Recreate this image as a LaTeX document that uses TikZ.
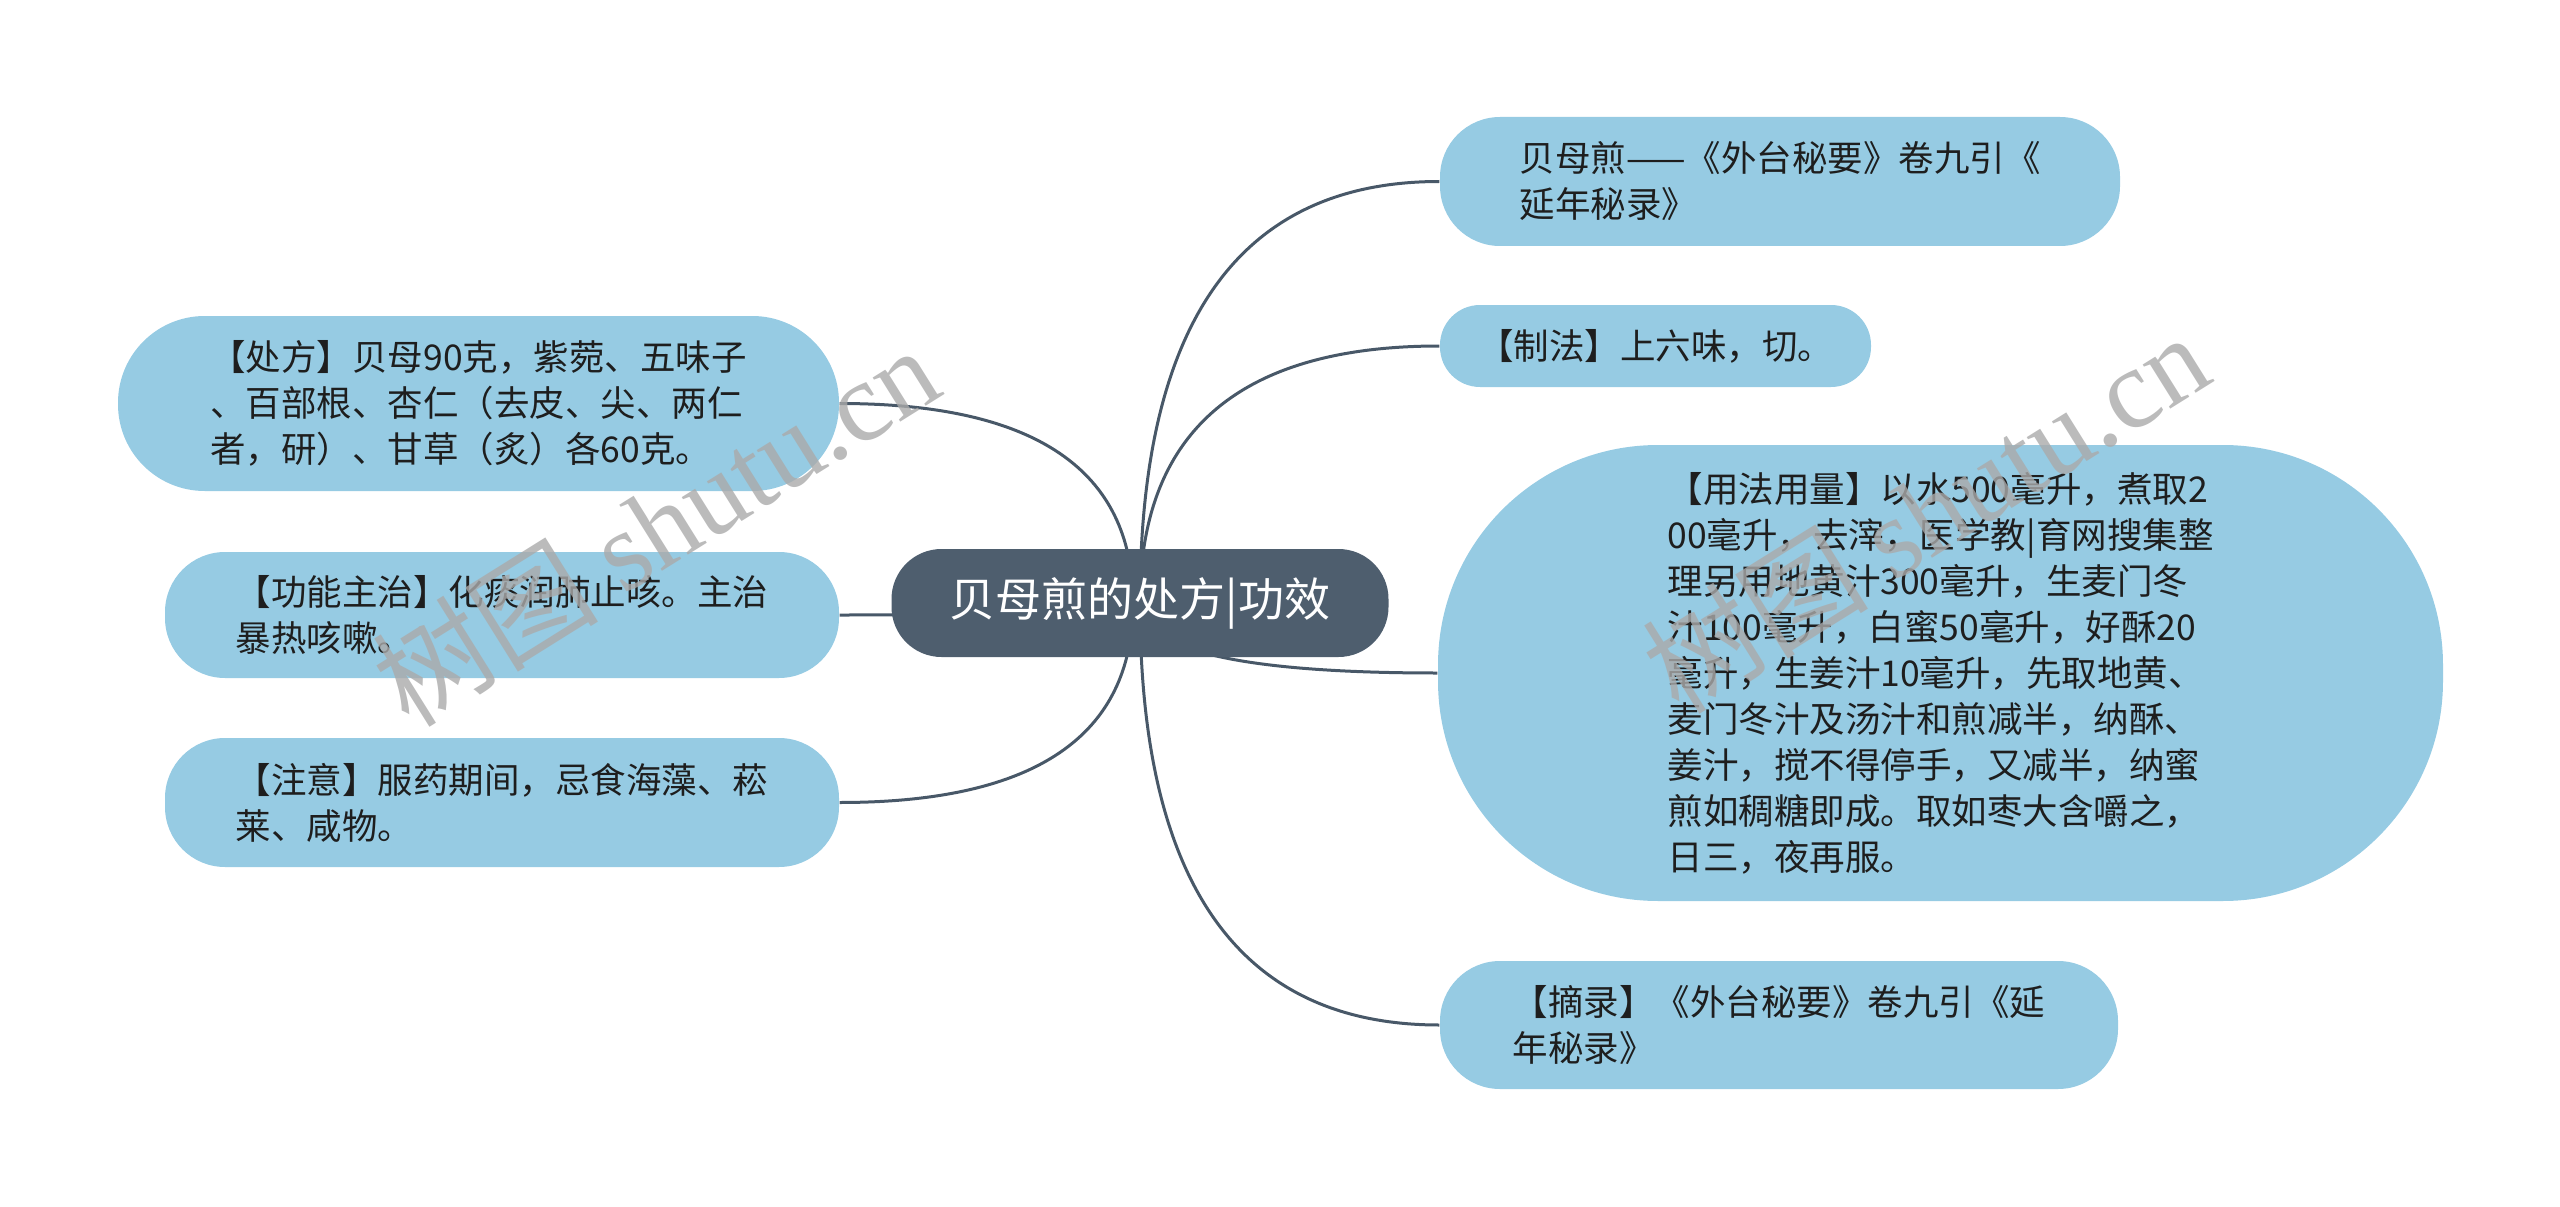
\documentclass[tikz,border=0pt]{standalone}
\usepackage{fontspec}
\setmainfont{Noto Sans CJK SC}
\newfontfamily\cjk{Noto Sans CJK SC}
\newfontfamily\wmserif{Liberation Serif}
\usetikzlibrary{calc}
\pgfdeclarelayer{background}
\pgfsetlayers{background,main}
\definecolor{leaf}{RGB}{150,203,227}
\definecolor{hub}{RGB}{78,94,110}
\definecolor{linecol}{RGB}{72,88,104}
\definecolor{ink}{RGB}{30,30,30}
\definecolor{wm}{RGB}{170,170,170}
\begin{document}
\begin{tikzpicture}[x=0.3pt,y=-0.3pt,
  leafnode/.style={fill=leaf, align=left, text=ink, inner sep=0pt,
    font=\cjk\fontsize{10.65pt}{13.8pt}\selectfont},
  hubnode/.style={fill=hub, text=white, inner sep=0pt, rounded corners=15pt,
    minimum width=149.1pt, minimum height=32.4pt,
    font=\cjk\fontsize{13.8pt}{16pt}\selectfont},
  conn/.style={draw=linecol, line width=0.9pt,
    to path={.. controls ($(\tikztostart)!0.667!(\tikztostart |- \tikztotarget)$)
      and ($(\tikztotarget)!0.667!(\tikztostart |- \tikztotarget)$) .. (\tikztotarget)}},
  wmark/.style={text=wm, opacity=0.8, rotate=32, font=\fontsize{34pt}{38pt}\selectfont}
]
\useasboundingbox (0,0) rectangle (2560,1207);

% central node
\node[hubnode] (c) at (1140,603) {贝母煎的处方|功效};
\coordinate (cR) at (1140,603);
\coordinate (cL) at (1133,603);

% right side
\node[leafnode, rounded corners=18pt, minimum width=204pt, minimum height=38.7pt]
  (n1) at (1780,181.5) {贝母煎——《外台秘要》卷九引《\\延年秘录》};
\node[leafnode, rounded corners=12pt, minimum width=129.3pt, minimum height=24.6pt]
  (n2) at (1655.5,346) {【制法】上六味，切。};
\node[leafnode, rounded corners=66pt, minimum width=301.5pt, minimum height=136.8pt]
  (n3) at (1940.5,673) {【用法用量】以水500毫升，煮取2\\00毫升，去滓，医学教|育网搜集整\\理另用地黄汁300毫升，生麦门冬\\汁100毫升，白蜜50毫升，好酥20\\毫升，生姜汁10毫升，先取地黄、\\麦门冬汁及汤汁和煎减半，纳酥、\\姜汁，搅不得停手，又减半，纳蜜\\煎如稠糖即成。取如枣大含嚼之，\\日三，夜再服。};
\node[leafnode, rounded corners=18pt, minimum width=203.4pt, minimum height=38.4pt]
  (n4) at (1779,1025) {【摘录】《外台秘要》卷九引《延\\年秘录》};

% left side
\node[leafnode, rounded corners=26pt, minimum width=216.3pt, minimum height=52.5pt]
  (l1) at (478.5,403.5) {【处方】贝母90克，紫菀、五味子\\、百部根、杏仁（去皮、尖、两仁\\者，研）、甘草（炙）各60克。};
\node[leafnode, rounded corners=18pt, minimum width=202.2pt, minimum height=37.8pt]
  (l2) at (502,615) {【功能主治】化痰润肺止咳。主治\\暴热咳嗽。};
\node[leafnode, rounded corners=18pt, minimum width=202.2pt, minimum height=38.7pt]
  (l3) at (502,802.5) {【注意】服药期间，忌食海藻、菘\\莱、咸物。};

% connectors
\begin{pgfonlayer}{background}
  \draw[conn] (cR) to (n1.west);
  \draw[conn] (cR) to (n2.west);
  \draw[conn] (cR) to (n3.west);
  \draw[conn] (cR) to (n4.west);
  \draw[conn] (cL) to (l1.east);
  \draw[conn] (cL) to (l2.east);
  \draw[conn] (cL) to (l3.east);
\end{pgfonlayer}

% watermarks
\node[wmark] (wm1) at (655,525) {{\cjk 树图} {\wmserif shutu.cn}};
\node[wmark] (wm2) at (1925,512) {{\cjk 树图} {\wmserif shutu.cn}};
\end{tikzpicture}
\end{document}
